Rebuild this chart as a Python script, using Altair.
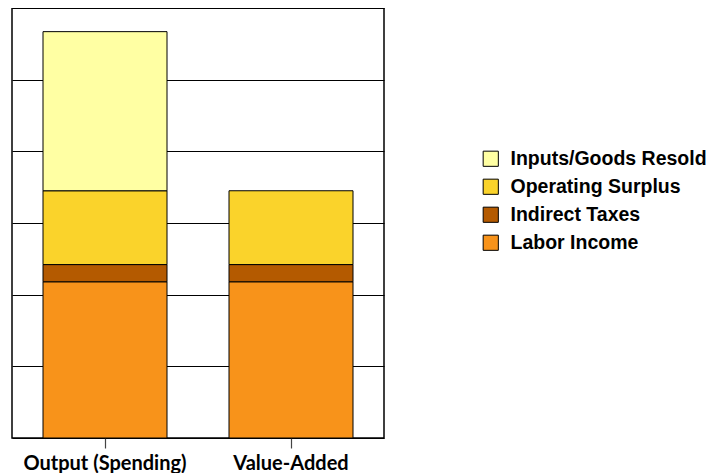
import altair as alt
import pandas as pd

categories = ["Output (Spending)", "Value-Added"]
components = ["Inputs/Goods Resold", "Operating Surplus", "Indirect Taxes", "Labor Income"]
colors = ["#FFFFA3", "#FAD32B", "#B45A00", "#F8931A"]
stack_order = {"Labor Income": 0, "Indirect Taxes": 1, "Operating Surplus": 2, "Inputs/Goods Resold": 3}

labor = [2.18, 2.18]
indirect = [0.24, 0.24]
operating = [1.03, 1.03]
inputs = [2.22, 0.0]

rows = []
for i, cat in enumerate(categories):
    for comp, vals in [("Labor Income", labor), ("Indirect Taxes", indirect),
                       ("Operating Surplus", operating), ("Inputs/Goods Resold", inputs)]:
        if vals[i] > 0:
            rows.append({"category": cat, "component": comp, "value": vals[i],
                         "order": stack_order[comp]})
df = pd.DataFrame(rows)

chart = alt.Chart(df).mark_bar(stroke="black", strokeWidth=1).encode(
    x=alt.X("category:N", sort=categories, title=None,
            scale=alt.Scale(paddingInner=1/3, paddingOuter=1/6),
            axis=alt.Axis(labelAngle=0, domain=False, ticks=True, tickSize=10,
                          tickColor="#444", tickWidth=1.2, labelFont="Lato",
                          labelFontWeight="bold", labelFontSize=20, labelColor="black",
                          labelPadding=5, grid=False)),
    y=alt.Y("value:Q", stack="zero", title=None,
            scale=alt.Scale(domain=[0, 6], nice=False),
            axis=alt.Axis(values=[0, 1, 2, 3, 4, 5, 6], labels=False, ticks=False,
                          domain=False, grid=True, gridColor="black", gridWidth=1,
                          gridOpacity=1)),
    color=alt.Color("component:N", sort=components,
                    scale=alt.Scale(domain=components, range=colors),
                    legend=alt.Legend(title=None, orient="none", legendX=469, legendY=141,
                                      symbolType="square", symbolSize=230,
                                      symbolStrokeColor="black", symbolStrokeWidth=1,
                                      labelFont="Liberation Sans", labelFontWeight="bold",
                                      labelFontSize=19.5, labelColor="black",
                                      labelOffset=10, rowPadding=7, padding=0,
                                      labelLimit=400)),
    order=alt.Order("order:Q", sort="ascending"),
).properties(
    width=372, height=430,
    padding={"left": 4, "top": 0, "right": 329, "bottom": 35},
    autosize=alt.AutoSizeParams(type="none"),
).configure_view(stroke="black", strokeWidth=1.5)

chart.save("out.html", embed_options={"renderer": "svg", "actions": False})
